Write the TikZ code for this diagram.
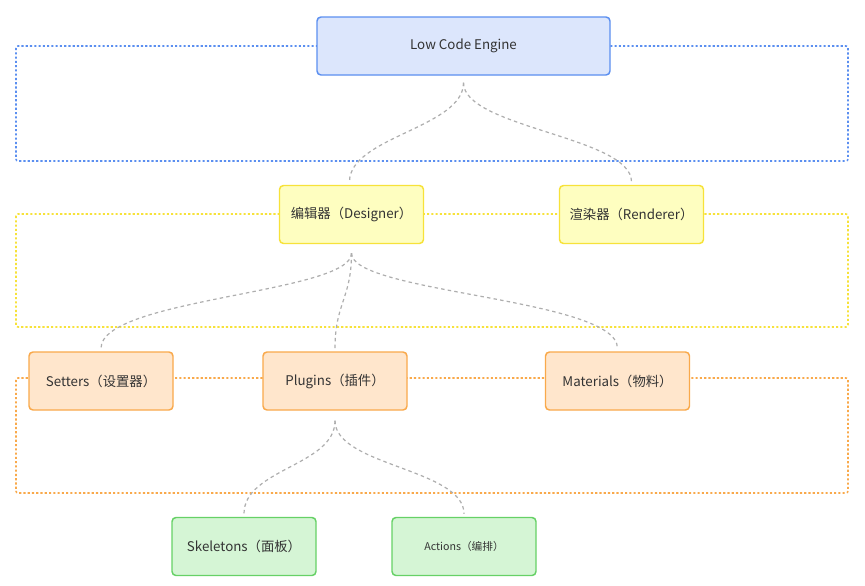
\documentclass[tikz,border=0pt]{standalone}
\usepackage{fontspec}
\setmainfont{Noto Sans CJK SC}
\usetikzlibrary{calc}

\definecolor{engineline}{HTML}{5B8FF0}
\definecolor{enginefill}{HTML}{DCE6FC}
\definecolor{editline}{HTML}{F7E23A}
\definecolor{editfill}{HTML}{FEFEC0}
\definecolor{partline}{HTML}{F9A94B}
\definecolor{partfill}{HTML}{FFE6CC}
\definecolor{paneline}{HTML}{66D166}
\definecolor{panefill}{HTML}{D5F5D5}
\definecolor{linkgray}{HTML}{AEAEAE}
\definecolor{textgray}{HTML}{333333}

\begin{document}
\begin{tikzpicture}[x=0.75pt,y=-0.75pt,
    box/.style={rectangle, rounded corners=3pt, line width=1.1pt, minimum width=108pt,
        minimum height=43.5pt, text=textgray, font=\fontsize{10}{12}\selectfont},
    group/.style={line width=1.15pt, dash pattern=on 1.6pt off 1.6pt, rounded corners=1.5pt},
    link/.style={draw=linkgray, line width=0.9pt, dash pattern=on 2.6pt off 2.4pt}
]
\useasboundingbox[fill=white] (0,0) rectangle (865,586);

% layers
\draw[group, draw=engineline] (16,46) rectangle (848,161);
\draw[group, draw=editline] (16,214) rectangle (848,327);
\draw[group, draw=partline] (16,378) rectangle (848,493);

% boxes
\node[box, draw=engineline, fill=enginefill, minimum width=219.75pt] (engine) at (463.5,46) {Low Code Engine};

\node[box, draw=editline, fill=editfill] (designer) at (351.5,214.5) {编辑器（Designer）};
\node[box, draw=editline, fill=editfill] (renderer) at (631.5,214.5) {渲染器（Renderer）};

\node[box, draw=partline, fill=partfill] (setters) at (101,381) {Setters（设置器）};
\node[box, draw=partline, fill=partfill] (plugins) at (335,381) {Plugins（插件）};
\node[box, draw=partline, fill=partfill] (materials) at (617.5,381) {Materials（物料）};

\node[box, draw=paneline, fill=panefill] (skeletons) at (244,546.5) {Skeletons（面板）};
\node[box, draw=paneline, fill=panefill, font=\fontsize{8}{10}\selectfont] (actions) at (464,546.5) {Actions（编排）};

% links
\draw[link] ($(engine.south)+(0,7)$) .. controls +(0,45) and +(0,-45) .. ($(designer.north)+(-2,-3)$);
\draw[link] ($(engine.south)+(0,7)$) .. controls +(0,45) and +(0,-45) .. ($(renderer.north)+(0,-3)$);

\draw[link] ($(designer.south)+(0,9)$) .. controls +(0,40) and +(0,-50) .. ($(setters.north)+(0,-3)$);
\draw[link] ($(designer.south)+(0,9)$) .. controls +(0,45) and +(0,-45) .. ($(plugins.north)+(0,-3)$);
\draw[link] ($(designer.south)+(0,9)$) .. controls +(0,40) and +(0,-50) .. ($(materials.north)+(0,-3)$);

\draw[link] ($(plugins.south)+(0,10)$) .. controls +(0,45) and +(0,-45) .. ($(skeletons.north)+(0,-3)$);
\draw[link] ($(plugins.south)+(0,10)$) .. controls +(0,45) and +(0,-45) .. ($(actions.north)+(0,-3)$);

\end{tikzpicture}
\end{document}
